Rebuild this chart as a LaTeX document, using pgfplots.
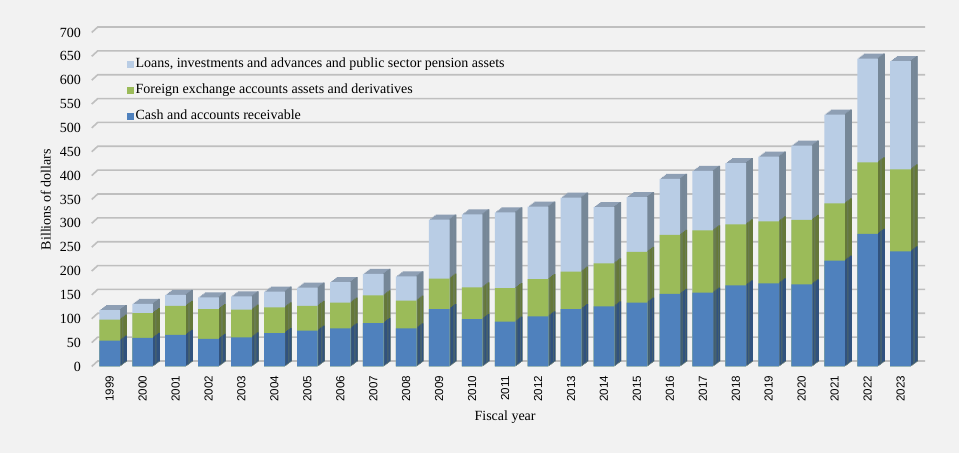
\documentclass[border=0pt]{standalone}
\usepackage{pgfplots}
\pgfplotsset{compat=1.18}
\usepackage{pgfplotstable}
\usepackage{fontspec}
\setmainfont{Liberation Serif}
\newfontfamily\xsans{Liberation Sans}
\definecolor{bgc}{HTML}{F2F2F2}
\definecolor{gridc}{HTML}{BFBFBF}
\definecolor{cashF}{HTML}{4F81BD}
\definecolor{cashS}{HTML}{31527E}
\definecolor{fxF}{HTML}{9BBB59}
\definecolor{fxS}{HTML}{657839}
\definecolor{loanF}{HTML}{B9CDE5}
\definecolor{loanS}{HTML}{768797}
\definecolor{loanT}{HTML}{8E9FB4}

\pgfplotstableread{
year cash fx loans
1999 54 44 20
2000 60 52 19
2001 66 61 23
2002 58 62 25
2003 61 58 28
2004 70 54 33
2005 75 52 38
2006 80 54 43
2007 91 58 45
2008 80 58 51
2009 120 64 124
2010 99 67 153
2011 94 70 159
2012 105 78 152
2013 120 79 155
2014 126 90 118
2015 134 106 115
2016 152 124 117
2017 155 130 125
2018 170 128 128
2019 174 130 136
2020 172 135 156
2021 222 120 186
2022 278 150 217
2023 241 172 227
}\data
\pgfplotstablecreatecol[expr={\thisrow{cash}+\thisrow{fx}}]{cf}\data
\pgfplotstablecreatecol[expr={\thisrow{cash}+\thisrow{fx}+\thisrow{loans}}]{tot}\data

\begin{document}
\begin{tikzpicture}
\fill[bgc] (0,0) rectangle (719.25pt,339.75pt);
\begin{axis}[
  at={(69.9pt,64.9pt)}, anchor=south west,
  scale only axis, width=617.85pt, height=250.5pt,
  xmin=-0.5, xmax=24.5, ymin=0, ymax=700,
  clip=false,
  axis line style={draw=none},
  major tick length=0pt,
  xtick={0,...,24},
  xticklabels from table={\data}{year},
  ytick={0,50,...,700},
  yticklabel style={font=\fontsize{10.5}{12}\selectfont},
  /pgf/number format/assume math mode=true,
  yticklabel shift=5.8pt,
  xticklabel shift=3.5pt,
  xticklabel style={rotate=90, anchor=east, font=\xsans\fontsize{8.7}{10}\selectfont},
  every axis y label/.style={at={([xshift=-35.5pt]axis description cs:0,0.5)}, rotate=90, anchor=center, font=\fontsize{10.5}{12}\selectfont},
  every axis x label/.style={at={([yshift=-37.9pt]axis description cs:0.5,0)}, anchor=center, font=\fontsize{10.5}{12}\selectfont},
  ylabel={Billions of dollars},
  xlabel={Fiscal year},
  legend image code/.code={\fill[#1] (0pt,-2.6pt) rectangle (5.2pt,2.6pt);},
  legend cell align=left,
  legend style={at={(0.0405,0.938)}, anchor=north west, draw=none, fill=none, inner sep=0pt,
    font=\fontsize{10.5}{12}\selectfont, row sep=3.4pt,
    nodes={inner xsep=1.4pt, inner ysep=3.33pt, text height=7.3pt, text depth=2.1pt}},
]
% back-wall gridlines
\pgfplotsinvokeforeach{0,50,...,700}{
  \draw[gridc, line width=1.2pt] ([xshift=-1.1pt]axis cs:-0.5,#1) -- ([xshift=3.4pt,yshift=4.1pt]axis cs:-0.5,#1) -- ([xshift=6pt,yshift=4.1pt]axis cs:24.5,#1);
}
% top faces
\pgfplotsinvokeforeach{1,2,3,4,5}{
  \addplot[ybar, forget plot, fill=loanT, draw=none, bar width=15.5pt, bar shift={#1*1pt}, yshift={#1*0.75pt}] table[x expr=\coordindex, y=tot]{\data};
}
% side faces
\pgfplotsinvokeforeach{1,2,3,4,5}{
  \addplot[ybar, forget plot, fill=loanS, draw=none, bar width=1.3pt, bar shift={7.75pt+(#1-0.5)*1pt}, yshift={#1*0.75pt}] table[x expr=\coordindex, y=tot]{\data};
  \addplot[ybar, forget plot, fill=fxS, draw=none, bar width=1.3pt, bar shift={7.75pt+(#1-0.5)*1pt}, yshift={#1*0.75pt}] table[x expr=\coordindex, y=cf]{\data};
  \addplot[ybar, forget plot, fill=cashS, draw=none, bar width=1.3pt, bar shift={7.75pt+(#1-0.5)*1pt}, yshift={#1*0.75pt}] table[x expr=\coordindex, y=cash]{\data};
}
% front faces
\addplot[ybar, forget plot, fill=loanF, draw=none, bar width=15.5pt, bar shift=0pt] table[x expr=\coordindex, y=tot]{\data};
\addplot[ybar, forget plot, fill=fxF, draw=none, bar width=15.5pt, bar shift=0pt] table[x expr=\coordindex, y=cf]{\data};
\addplot[ybar, forget plot, fill=cashF, draw=none, bar width=15.5pt, bar shift=0pt] table[x expr=\coordindex, y=cash]{\data};
\addlegendimage{fill=loanF, draw=none}
\addlegendentry{Loans, investments and advances and public sector pension assets}
\addlegendimage{fill=fxF, draw=none}
\addlegendentry{Foreign exchange accounts assets and derivatives}
\addlegendimage{fill=cashF, draw=none}
\addlegendentry{Cash and accounts receivable}
\end{axis}
\pgfresetboundingbox
\path (0,0) rectangle (719.25pt,339.75pt);
\end{tikzpicture}
\end{document}
